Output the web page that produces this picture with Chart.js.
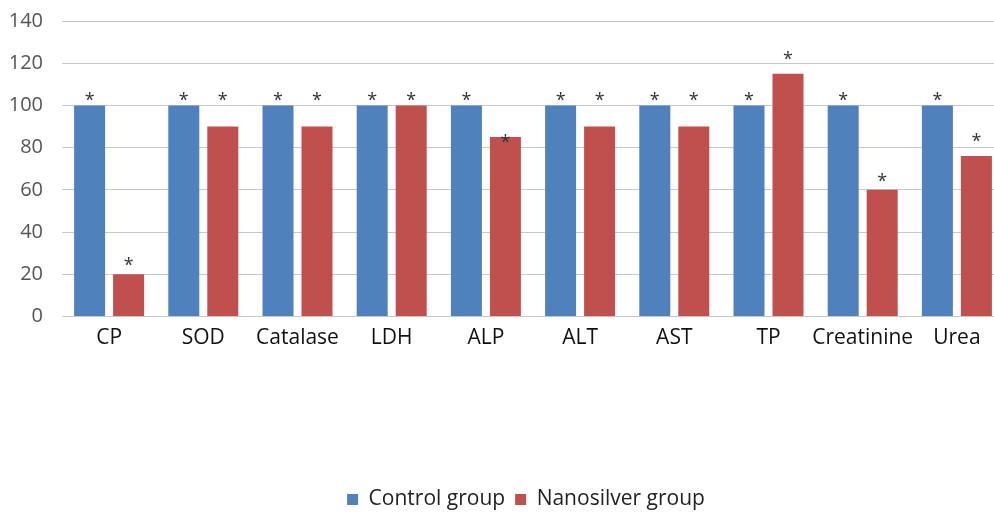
<!DOCTYPE html>
<html>
<head>
<meta charset="utf-8">
<script src="https://cdn.jsdelivr.net/npm/chart.js@4.4.1/dist/chart.umd.min.js"></script>
<style>
html,body{margin:0;padding:0;background:#fff;overflow:hidden;}
#wrap{width:1052px;height:514px;}
</style>
</head>
<body>
<div id="wrap"><canvas id="c" width="1052" height="514"></canvas></div>
<script>
const categories = ['CP','SOD','Catalase','LDH','ALP','ALT','AST','TP','Creatinine','Urea'];
const controlGroup = [100,100,100,100,100,100,100,100,100,100];
const nanosilverGroup = [20,90,90,100,85,90,90,115,60,76];
const yTicks = [0,20,40,60,80,100,120,140];
// significance marker levels (value units)
const controlStarLevel = [104,104,104,104,104,104,104,104,104,104];
const nanosilverStarLevel = [26,104,104,104,84,104,104,123.5,65.5,84.5];

const FONT = '"Open Sans", "Noto Sans", sans-serif';

const starPlugin = {
  id: 'stars',
  afterDatasetsDraw(chart) {
    const ctx = chart.ctx;
    const y = chart.scales.y;
    const levels = [controlStarLevel, nanosilverStarLevel];
    ctx.save();
    ctx.fillStyle = '#333333';
    ctx.font = '18px ' + FONT;
    ctx.textAlign = 'center';
    ctx.textBaseline = 'middle';
    levels.forEach((lv, di) => {
      const meta = chart.getDatasetMeta(di);
      meta.data.forEach((bar, i) => {
        ctx.fillText('*', bar.x, y.getPixelForValue(lv[i]) + 4);
      });
    });
    ctx.restore();
  }
};

new Chart(document.getElementById('c'), {
  type: 'bar',
  data: {
    labels: categories,
    datasets: [
      { label: 'Control group', data: controlGroup, backgroundColor: '#4F81BD', borderWidth: 0 },
      { label: 'Nanosilver group', data: nanosilverGroup, backgroundColor: '#C0504D', borderWidth: 0 }
    ]
  },
  options: {
    responsive: false,
    animation: false,
    devicePixelRatio: 1,
    layout: { padding: { top: 21, bottom: -6, left: 0, right: 0 } },
    datasets: { bar: { categoryPercentage: 0.828, barPercentage: 0.795 } },
    plugins: {
      legend: {
        position: 'bottom',
        labels: {
          font: { family: FONT, size: 21 },
          color: '#222222',
          boxWidth: 11, boxHeight: 11,
          padding: 10
        }
      },
      tooltip: { enabled: false }
    },
    scales: {
      x: {
        grid: { display: false, drawTicks: false },
        border: { display: true, color: '#C8C8C8', width: 1 },
        ticks: { font: { family: FONT, size: 21 }, color: '#111111', padding: 9, maxRotation: 0, autoSkip: false },
        afterFit(s) { s.height = 162.5; s.paddingLeft = 0; s.paddingRight = 0; }
      },
      y: {
        min: 0, max: 140,
        afterBuildTicks(s) { s.ticks = yTicks.map(v => ({ value: v })); },
        grid: { color: '#C8C8C8', drawTicks: false },
        border: { display: false },
        ticks: { font: { family: FONT, size: 20 }, color: '#555555', padding: 19 },
        afterFit(s) { s.width = 62; s.paddingTop = 0; s.paddingBottom = 0; }
      },
      yR: {
        position: 'right',
        display: true,
        grid: { display: false, drawTicks: false },
        border: { display: false },
        ticks: { display: false },
        afterFit(s) { s.width = 48; s.paddingTop = 0; s.paddingBottom = 0; }
      }
    }
  },
  plugins: [starPlugin]
});
</script>
</body>
</html>
